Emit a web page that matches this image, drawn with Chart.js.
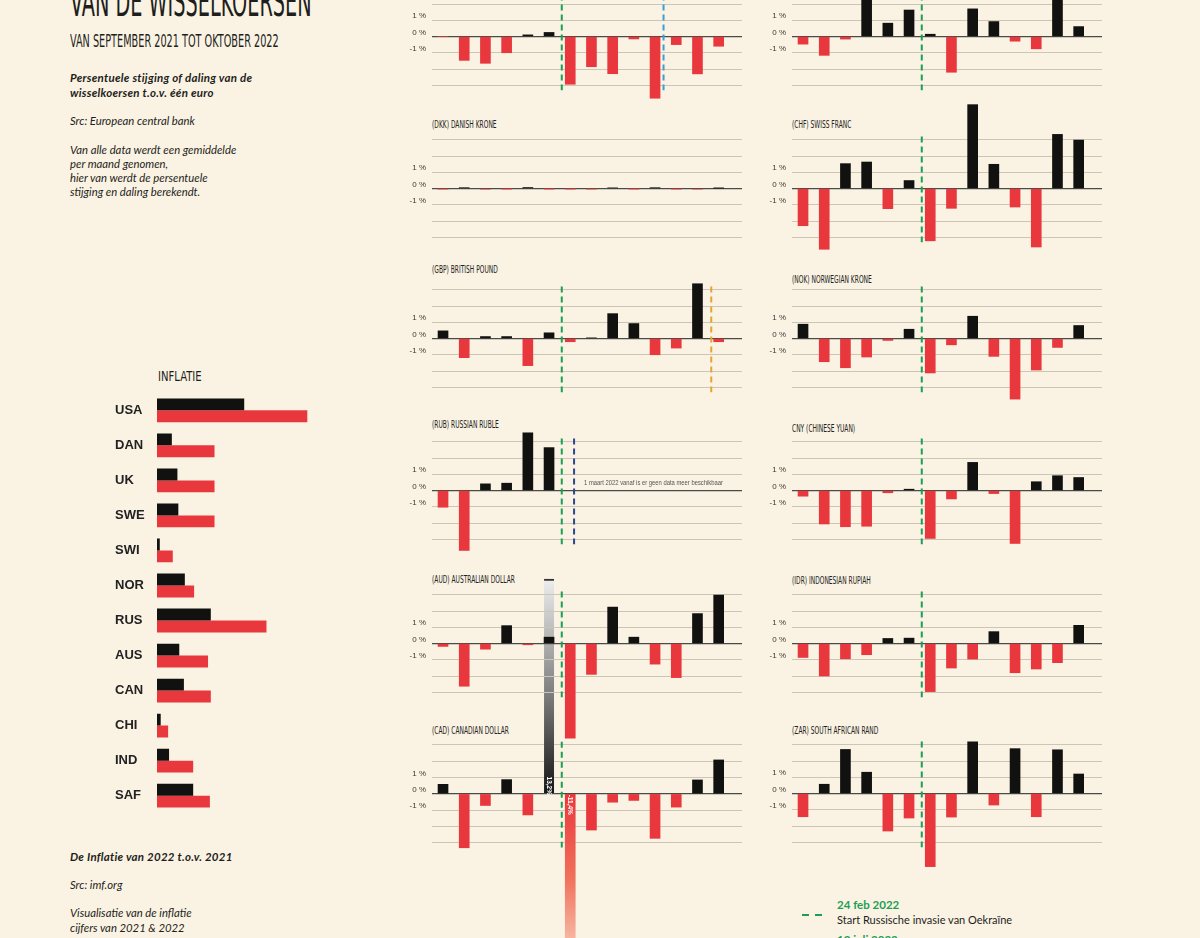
<!DOCTYPE html>
<html>
<head>
<meta charset="utf-8">
<script src="https://cdn.jsdelivr.net/npm/chart.js@4.4.1/dist/chart.umd.min.js"></script>
<style>
  body { margin: 0; background: #faf3e3; }
  #page { position: relative; width: 1200px; height: 938px; overflow: hidden; background: #faf3e3; color: #1e1e1c; font-family: Lato, "Open Sans", sans-serif; }
  .t { position: absolute; white-space: nowrap; line-height: 1; }
  .cond { font-family: "Liberation Sans Narrow", "DejaVu Sans Condensed", sans-serif; transform-origin: 0 0; }
  .it { font-style: italic; font-size: 11.3px; }
  .bi { font-style: italic; font-weight: bold; font-size: 11.5px; letter-spacing: 0.25px; }
  canvas { position: absolute; }
  .dash { position: absolute; height: 2px; width: 7px; background: #1a9f55; }
</style>
</head>
<body>
<div id="page">
  <div class="t cond" style="left:70px;top:-18px;font-size:40px;transform:scaleX(0.535);">VAN DE WISSELKOERSEN</div>
  <div class="t cond" style="left:70px;top:32px;font-size:18px;transform:scaleX(0.6);">VAN SEPTEMBER 2021 TOT OKTOBER 2022</div>

  <div class="t bi" style="left:70px;top:72px;">Persentuele stijging of daling van de</div>
  <div class="t bi" style="left:70px;top:87px;">wisselkoersen t.o.v. één euro</div>
  <div class="t it" style="left:70px;top:115px;">Src: European central bank</div>
  <div class="t it" style="left:70px;top:144px;">Van alle data werdt een gemiddelde</div>
  <div class="t it" style="left:70px;top:158px;">per maand genomen,</div>
  <div class="t it" style="left:70px;top:172px;">hier van werdt de persentuele</div>
  <div class="t it" style="left:70px;top:186px;">stijging en daling berekendt.</div>

  <div class="t cond" style="left:158px;top:369px;font-size:14px;transform:scaleX(0.8);">INFLATIE</div>

  <div class="t bi" style="left:70px;top:851px;">De Inflatie van 2022 t.o.v. 2021</div>
  <div class="t it" style="left:70px;top:879px;">Src: imf.org</div>
  <div class="t it" style="left:70px;top:907px;">Visualisatie van de inflatie</div>
  <div class="t it" style="left:70px;top:922px;">cijfers van 2021 &amp; 2022</div>

  <div class="dash" style="left:802px;top:914px;"></div>
  <div class="dash" style="left:815px;top:914px;"></div>
  <div class="t" style="left:837px;top:899px;font-size:11.5px;font-weight:bold;color:#1a9f55;">24 feb 2022</div>
  <div class="t" style="left:837px;top:914px;font-size:11px;">Start Russische invasie van Oekraïne</div>
  <div class="t" style="left:837px;top:934px;font-size:11.5px;font-weight:bold;color:#1a9f55;">12 juli 2022</div>
</div>

<script>
// maanden sep 2021 - okt 2022
const maanden = ['sep 21', 'okt 21', 'nov 21', 'dec 21', 'jan 22', 'feb 22', 'mrt 22',
                 'apr 22', 'mei 22', 'jun 22', 'jul 22', 'aug 22', 'sep 22', 'okt 22'];

// procentuele stijging/daling t.o.v. de euro
const usd = [0, -1.47, -1.65, -1.0, 0.1, 0.25, -2.94, -1.86, -2.29, -0.15, -3.8, -0.5, -2.3, -0.6];
const sek = [-0.47, -1.16, -0.16, 2.6, 0.82, 1.63, 0.14, -2.2, 1.7, 0.92, -0.29, -0.76, 2.5, 0.61];
const dkk = [-0.03, 0.05, -0.04, -0.02, 0.06, -0.02, -0.02, -0.03, 0.04, -0.02, 0.05, -0.03, -0.04, 0.02];
const chf = [-2.29, -3.74, 1.53, 1.63, -1.24, 0.49, -3.22, -1.22, 5.16, 1.49, -1.14, -3.6, 3.33, 2.98];
const gbp = [0.47, -1.18, 0.12, 0.12, -1.67, 0.35, -0.2, 0.04, 1.53, 0.92, -1.0, -0.59, 3.37, -0.2];
const nok = [0.88, -1.43, -1.8, -1.14, -0.12, 0.57, -2.12, -0.39, 1.37, -1.1, -3.73, -1.94, -0.55, 0.8];
const rub = [-1.03, -3.69, 0.41, 0.45, 3.55, 2.64, null, null, null, null, null, null, null, null];
const cny = [-0.35, -2.06, -2.23, -2.2, -0.14, 0.08, -2.95, -0.52, 1.73, -0.19, -3.26, 0.54, 0.91, 0.8];
const aud = [-0.18, -2.63, -0.35, 1.1, -0.08, 0.39, -5.82, -1.9, 2.24, 0.39, -1.27, -2.1, 1.84, 2.98];
const idr = [-0.86, -2.0, -0.94, -0.69, 0.31, 0.33, -2.96, -1.51, -0.96, 0.73, -1.8, -1.57, -1.18, 1.12];
const cad = [0.58, -3.32, -0.72, 0.87, -1.3, 13.2, -11.4, -2.23, -0.52, -0.41, -2.74, -0.82, 0.85, 2.08];
const zar = [-1.43, 0.57, 2.71, 1.31, -2.31, -1.51, -4.5, -1.45, 3.18, -0.71, 2.76, -1.43, 2.69, 1.2];
const cadNotes = [null, null, null, null, null, '13,2%', '-11,4%', null, null, null, null, null, null, null];

// inflatie
const landen = ['USA', 'DAN', 'UK', 'SWE', 'SWI', 'NOR', 'RUS', 'AUS', 'CAN', 'CHI', 'IND', 'SAF'];
const inflatie2021 = [4.7, 0.8, 1.1, 1.15, 0.15, 1.5, 2.9, 1.2, 1.45, 0.2, 0.65, 1.95];
const inflatie2022 = [8.1, 3.1, 3.1, 3.1, 0.85, 2.0, 5.9, 2.75, 2.9, 0.6, 1.95, 2.85];

const yLabels = [1, 0, -1];

const ZWART = '#111110';
const ROOD = '#e8383d';
const lijnKleur = { groen: '#1a9f55', blauw: '#3a9fd8', oranje: '#e5a530', navy: '#2f4590' };
const PX = 16.25;   // pixels per procent

const panels = [
  { titel: '(USD) US DOLLAR', data: usd, kol: 0, nul: 36, titelY: -22, lijnen: [['groen', 6.6], ['blauw', 11.4]] },
  { titel: '(SEK) SWEDISH KRONA', data: sek, kol: 1, nul: 36, titelY: -22, lijnen: [['groen', 6.6]] },
  { titel: '(DKK) DANISH KRONE', data: dkk, kol: 0, nul: 188, titelY: 125, lijnen: [] },
  { titel: '(CHF)  SWISS FRANC', data: chf, kol: 1, nul: 188, titelY: 125, lijnen: [['groen', 6.6]] },
  { titel: '(GBP) BRITISH POUND', data: gbp, kol: 0, nul: 338, titelY: 270, lijnen: [['groen', 6.6], ['oranje', 13.65]] },
  { titel: '(NOK) NORWEGIAN KRONE', data: nok, kol: 1, nul: 338, titelY: 280, lijnen: [['groen', 6.6]] },
  { titel: '(RUB) RUSSIAN RUBLE', data: rub, kol: 0, nul: 490, titelY: 425, lijnen: [['groen', 6.6], ['navy', 7.18]],
    tekst: '1 maart 2022 vanaf is er geen data meer beschikbaar' },
  { titel: 'CNY (CHINESE YUAN)', data: cny, kol: 1, nul: 490, titelY: 429, lijnen: [['groen', 6.6]] },
  { titel: '(AUD) AUSTRALIAN DOLLAR', data: aud, kol: 0, nul: 643, titelY: 580, lijnen: [['groen', 6.6]] },
  { titel: '(IDR) INDONESIAN RUPIAH', data: idr, kol: 1, nul: 643, titelY: 581, lijnen: [['groen', 6.6]] },
  { titel: '(CAD) CANADIAN DOLLAR', data: cad, kol: 0, nul: 793, titelY: 731, lijnen: [['groen', 6.6]], notes: cadNotes, yMax: 14, yMin: -12 },
  { titel: '(ZAR) SOUTH AFRICAN RAND', data: zar, kol: 1, nul: 793, titelY: 731, lijnen: [['groen', 6.6]] }
];

Chart.defaults.animation = false;
Chart.defaults.font.family = '"Liberation Sans Narrow", sans-serif';

const page = document.getElementById('page');

function decor(p) {
  return {
    id: 'decor',
    afterDatasetsDraw(chart) {
      const { ctx, chartArea } = chart;
      const xs = chart.scales.x, ys = chart.scales.y;
      ctx.save();
      ctx.fillStyle = '#3a3a38';
      ctx.font = '8px "Liberation Sans Narrow", sans-serif';
      ctx.textAlign = 'right';
      ctx.textBaseline = 'middle';
      yLabels.forEach(v => ctx.fillText(v + ' %', chartArea.left - 6, ys.getPixelForValue(v) - 4));

      ctx.lineWidth = 2;
      ctx.setLineDash([6, 4]);
      p.lijnen.forEach(([k, pos]) => {
        const x = xs.getPixelForValue(pos);
        ctx.strokeStyle = lijnKleur[k];
        ctx.beginPath();
        ctx.moveTo(x, ys.getPixelForValue(3.2));
        ctx.lineTo(x, ys.getPixelForValue(-3.3));
        ctx.stroke();
      });
      ctx.setLineDash([]);

      if (p.tekst) {
        const x = xs.getPixelForValue(p.lijnen[p.lijnen.length - 1][1]) + 10;
        ctx.save();
        ctx.translate(x, ys.getPixelForValue(0.45));
        ctx.scale(0.78, 1);
        ctx.textAlign = 'left';
        ctx.fillStyle = '#555';
        ctx.font = '7.5px "Liberation Sans Narrow", sans-serif';
        ctx.fillText(p.tekst, 0, 0);
        ctx.restore();
      }

      if (p.notes) {
        const meta = chart.getDatasetMeta(0);
        ctx.fillStyle = '#fff';
        ctx.font = 'bold 6.5px "Liberation Sans Narrow", sans-serif';
        ctx.textAlign = 'center';
        p.notes.forEach((n, i) => {
          if (!n) return;
          const el = meta.data[i];
          const y0 = ys.getPixelForValue(0);
          ctx.save();
          ctx.translate(el.x, p.data[i] > 0 ? y0 - 8 : y0 + 11);
          ctx.rotate(Math.PI / 2);
          ctx.fillText(n, 0, 0);
          ctx.restore();
        });
      }
      ctx.restore();
    }
  };
}

function kleur(p) {
  return c => {
    const v = p.data[c.dataIndex];
    if (p.notes && p.notes[c.dataIndex]) {
      const ys = c.chart.scales.y;
      if (!ys || ys.top == null) return v > 0 ? ZWART : ROOD;
      const y0 = ys.getPixelForValue(0), y1 = ys.getPixelForValue(v);
      const g = c.chart.ctx.createLinearGradient(0, y0, 0, y1);
      if (v > 0) {
        g.addColorStop(0, '#151515');
        g.addColorStop(0.45, '#7a7a7a');
        g.addColorStop(1, '#eeeeee');
      } else {
        g.addColorStop(0, '#e8383d');
        g.addColorStop(0.45, '#f0705a');
        g.addColorStop(1, '#fbe3cf');
      }
      return g;
    }
    return v > 0 ? ZWART : ROOD;
  };
}

panels.forEach((p, idx) => {
  const yMax = p.yMax ?? 6, yMin = p.yMin ?? -6;
  const cv = document.createElement('canvas');
  cv.width = 350;
  cv.height = Math.round((yMax - yMin) * PX);
  cv.style.left = (p.kol ? 752 : 392) + 'px';
  cv.style.top = (p.nul - yMax * PX) + 'px';
  cv.style.zIndex = 30 - idx;
  page.appendChild(cv);

  const titel = document.createElement('div');
  titel.className = 't cond';
  titel.textContent = p.titel;
  titel.style.cssText = `left:${p.kol ? 792 : 432}px;top:${p.titelY - 6}px;font-size:11px;transform:scaleX(0.6);color:#222;`;
  page.appendChild(titel);

  new Chart(cv, {
    type: 'bar',
    data: {
      labels: maanden,
      datasets: [{
        data: p.data.map((v, i) => ({ x: i + 1, y: v })),
        backgroundColor: kleur(p),
        borderColor: '#333',
        borderWidth: c => (p.notes && p.notes[c.dataIndex] && p.data[c.dataIndex] > 0) ? { top: 2, left: 0, right: 0, bottom: 0 } : 0,
        borderSkipped: false,
        barThickness: 10
      }]
    },
    options: {
      responsive: false,
      layout: { padding: { left: 40, right: 0, top: 0, bottom: 0 } },
      plugins: { legend: { display: false }, tooltip: { enabled: false } },
      scales: {
        x: { type: 'linear', min: 0.48, max: 15.1, offset: false, display: false },
        y: {
          min: yMin, max: yMax,
          afterFit: s => { s.width = 0; },
          border: { display: false },
          ticks: { display: false, stepSize: 1 },
          grid: {
            drawTicks: false,
            color: c => Math.abs(c.tick.value) > 3 ? 'rgba(0,0,0,0)' : (c.tick.value === 0 ? '#4a4a48' : '#cdc6b6'),
            lineWidth: c => c.tick.value === 0 ? 1.3 : 1
          }
        }
      }
    },
    plugins: [decor(p)]
  });
});

// inflatie grafiek
const ic = document.createElement('canvas');
ic.width = 209;
ic.height = 436;
ic.style.left = '115px';
ic.style.top = '385px';
page.appendChild(ic);

new Chart(ic, {
  type: 'bar',
  data: {
    labels: landen,
    datasets: [
      { label: '2021', data: inflatie2021, backgroundColor: ZWART, categoryPercentage: 0.68, barPercentage: 1 },
      { label: '2022', data: inflatie2022, backgroundColor: ROOD, categoryPercentage: 0.68, barPercentage: 1 }
    ]
  },
  options: {
    indexAxis: 'y',
    responsive: false,
    layout: { padding: 0 },
    plugins: { legend: { display: false }, tooltip: { enabled: false } },
    scales: {
      x: { type: 'linear', min: 0, max: 9, display: false },
      y: {
        afterFit: s => { s.width = 42; },
        grid: { display: false },
        border: { display: false },
        ticks: { crossAlign: 'far', padding: 0, color: '#222', font: { size: 13, weight: 'bold' } }
      }
    }
  }
});
</script>
</body>
</html>
